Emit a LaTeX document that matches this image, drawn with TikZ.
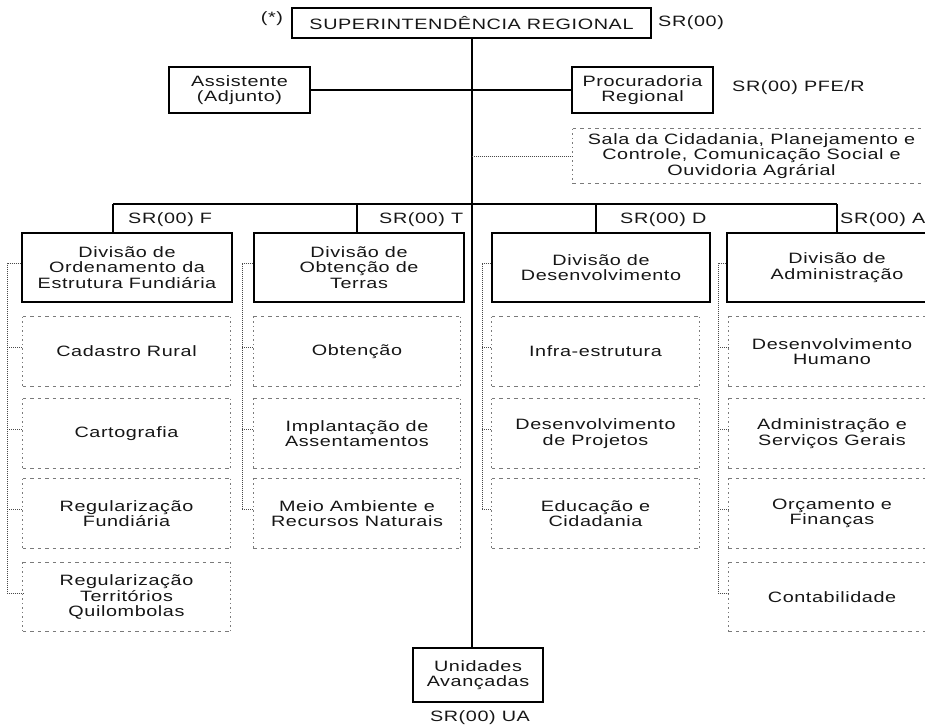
\documentclass[tikz,border=0pt]{standalone}
\usepackage{fontspec}
\setmainfont{Liberation Sans}[FakeStretch=1.32,LetterSpace=4]
\definecolor{ink}{HTML}{161616}
\definecolor{dashgray}{HTML}{7A7A7A}
\definecolor{busgray}{HTML}{4A4A4A}
\newcommand{\drawsubframe}[1]{%
  \draw[hdash] (#1.north west) -- (#1.north east);
  \draw[hdash] (#1.south west) -- (#1.south east);
  \draw[vdot] (#1.north west) -- (#1.south west);
  \draw[vdot] (#1.north east) -- (#1.south east);}
\begin{document}
\begin{tikzpicture}[x=1pt,y=-1pt,
  txt/.style={font=\fontsize{15}{15.5}\selectfont, text=ink, align=center, inner sep=0pt},
  solidbox/.style={txt, draw=black, line width=1.3pt},
  divbox/.style={solidbox, minimum height=69pt},
  subbox/.style={txt, minimum width=207pt, minimum height=69pt},
  hdash/.style={draw=dashgray, line width=1pt, dash pattern=on 3.5pt off 4pt},
  vdot/.style={draw=dashgray, line width=1.3pt, dash pattern=on 1.2pt off 3.3pt},
  bus/.style={draw=busgray, line width=1pt, dash pattern=on 1pt off 1pt},
  bar/.style={draw=black, line width=1.4pt},
  trunk/.style={draw=black, line width=2pt}]
\useasboundingbox (0,0) rectangle (925,726);
\clip (0,0) rectangle (925,726);

% head office and its staff units
\node[solidbox, minimum width=359pt, minimum height=30pt] (top) at (471.5,23) {SUPERINTENDÊNCIA REGIONAL};
\node[txt] (star) at (272,19) {(*)};
\node[txt, anchor=west] (srtop) at (658,23) {SR(00)};
\node[solidbox, minimum width=141pt, minimum height=46pt] (asst) at (239.5,90) {Assistente\\(Adjunto)};
\node[solidbox, minimum width=141pt, minimum height=46pt] (proc) at (642.5,90) {Procuradoria\\Regional};
\node[txt, anchor=west] (pfe) at (732,88) {SR(00) PFE/R};
\node[txt, minimum width=357pt, minimum height=54pt] (sala) at (751.5,156)
  {Sala da Cidadania, Planejamento e\\Controle, Comunicação Social e\\Ouvidoria Agrárial};
\drawsubframe{sala}

% divisions
\node[divbox, minimum width=210pt] (divF) at (127,267.5) {Divisão de\\Ordenamento da\\Estrutura Fundiária};
\node[divbox, minimum width=210pt] (divT) at (359,267.5) {Divisão de\\Obtenção de\\Terras};
\node[divbox, minimum width=218pt] (divD) at (601,267.5) {Divisão de\\Desenvolvimento};
\node[divbox, minimum width=220pt] (divA) at (837,267.5) {Divisão de\\Administração};

\node[txt, anchor=west] (lblF) at (128,220) {SR(00) F};
\node[txt, anchor=west] (lblT) at (379,220) {SR(00) T};
\node[txt, anchor=west] (lblD) at (620,220) {SR(00) D};
\node[txt, anchor=west] (lblA) at (840,220) {SR(00) A};

% sections under each division
\node[subbox] (sF1) at (126.5,351.5) {Cadastro Rural};
\node[subbox] (sF2) at (126.5,433.5) {Cartografia};
\node[subbox] (sF3) at (126.5,513.5) {Regularização\\Fundiária};
\node[subbox] (sF4) at (126.5,597) {Regularização\\Territórios\\Quilombolas};

\node[subbox] (sT1) at (357,351.5) {Obtenção};
\node[subbox] (sT2) at (357,433.5) {Implantação de\\Assentamentos};
\node[subbox] (sT3) at (357,513.5) {Meio Ambiente e\\Recursos Naturais};

\node[subbox] (sD1) at (595.5,351.5) {Infra-estrutura};
\node[subbox] (sD2) at (595.5,433.5) {Desenvolvimento\\de Projetos};
\node[subbox] (sD3) at (595.5,513.5) {Educação e\\Cidadania};

\node[subbox] (sA1) at (832,351.5) {Desenvolvimento\\Humano};
\node[subbox] (sA2) at (832,433.5) {Administração e\\Serviços Gerais};
\node[subbox] (sA3) at (832,513.5) {Orçamento e\\Finanças};
\node[subbox] (sA4) at (832,597) {Contabilidade};

\foreach \n in {sF1,sF2,sF3,sF4,sT1,sT2,sT3,sD1,sD2,sD3,sA1,sA2,sA3,sA4}{\drawsubframe{\n}}

% regional field units
\node[solidbox, minimum width=130pt, minimum height=54pt] (ua) at (478,675) {Unidades\\Avançadas};
\node[txt] (uaLbl) at (480,718) {SR(00) UA};

% main trunk and staff links
\draw[trunk] (top.south) -- (top.south |- ua.north);
\draw[bar] (asst.east) -- (proc.west);
\draw[bus] (top.south |- sala.west) -- (sala.west);

% distribution bar to the divisions
\coordinate (jF) at (113,204);
\coordinate (jT) at (357,204);
\coordinate (jD) at (596,204);
\coordinate (jA) at (837,204);
\draw[bar] (jF) -- (jA);
\foreach \j/\d in {jF/divF, jT/divT, jD/divD, jA/divA}{\draw[bar] (\j) -- (\j |- \d.north);}

% dotted buses linking each division to its sections
\coordinate (bF) at (7,263);
\coordinate (bT) at (242,263);
\coordinate (bD) at (482,263);
\coordinate (bA) at (718,263);
\draw[bus] (divF.west |- bF) -- (bF) |- ([yshift=4pt]sF4.west);
\draw[bus] (divT.west |- bT) -- (bT) |- ([yshift=4pt]sT3.west);
\draw[bus] (divD.west |- bD) -- (bD) |- ([yshift=4pt]sD3.west);
\draw[bus] (divA.west |- bA) -- (bA) |- ([yshift=4pt]sA4.west);
\foreach \b/\s in {bF/sF1, bF/sF2, bF/sF3, bT/sT1, bT/sT2, bD/sD1, bD/sD2, bA/sA1, bA/sA2, bA/sA3}{
  \draw[bus] ([yshift=4pt]\s.west -| \b) -- ([yshift=4pt]\s.west);}
\end{tikzpicture}
\end{document}
